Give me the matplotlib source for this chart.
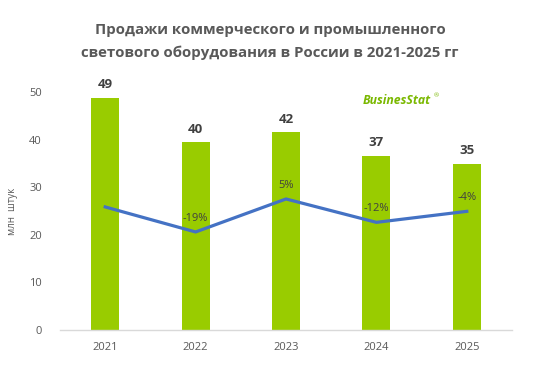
import matplotlib
matplotlib.use("Agg")
import matplotlib.pyplot as plt

years = ["2021", "2022", "2023", "2024", "2025"]
sales = [48.7, 39.4, 41.5, 36.5, 34.9]
sales_labels = ["49", "40", "42", "37", "35"]
growth = [-0.8, -19, 5, -12, -4]
growth_labels = ["", "-19%", "5%", "-12%", "-4%"]

plt.rcParams['font.family'] = ['Open Sans', 'DejaVu Sans']

fig = plt.figure(figsize=(5.4, 3.74), dpi=100)
ax = fig.add_axes([60/540, 44/374, 452/540, 238/374])
x = list(range(len(years)))
ax.bar(x, sales, width=0.31, color="#99CC00", zorder=2)
ax.set_xlim(-0.5, 4.5)
ax.set_ylim(0, 50)
ax.set_yticks([0, 10, 20, 30, 40, 50])
ax.set_xticks(x)
ax.set_xticklabels(years)
ax.tick_params(axis='both', length=0, labelsize=8, colors="#595959")
ax.tick_params(axis='y', pad=13)
ax.tick_params(axis='x', pad=9)
for s in ["top", "right", "left"]:
    ax.spines[s].set_visible(False)
ax.spines["bottom"].set_color("#d9d9d9")
ax.spines["bottom"].set_linewidth(1)
ax.set_ylabel("млн  штук", fontsize=7, color="#595959", labelpad=8)
for xi, v, lab in zip(x, sales, sales_labels):
    ax.annotate(lab, (xi, v), xytext=(0, 5), textcoords="offset points",
                ha="center", va="bottom", fontsize=9.5, fontweight="bold", color="#404040")

ax2 = ax.twinx()
ax2.plot(x, growth, color="#4472C4", linewidth=2.3, zorder=3)
ax2.set_ylim(-90.3, 82.8)
ax2.axis("off")
for xi, g, lab in zip(x, growth, growth_labels):
    if lab:
        ax2.annotate(lab, (xi, g), xytext=(0, 6), textcoords="offset points",
                     ha="center", va="bottom", fontsize=8, color="#404040")

fig.text(0.5, 1 - 30/374, "Продажи коммерческого и промышленного", ha="center", va="center",
         fontsize=10.8, fontweight="bold", color="#595959")
fig.text(0.5, 1 - 53/374, "светового оборудования в России в 2021-2025 гг", ha="center", va="center",
         fontsize=10.8, fontweight="bold", color="#595959")

fig.text(397/540, 1 - 100/374, "BusinesStat", ha="center", va="center", fontsize=8.8,
         fontweight="bold", fontstyle="italic", color="#7AB800")
fig.text(436/540, 1 - 96/374, "®", ha="center", va="center", fontsize=4.5, color="#7AB800")

fig.savefig("out.png", dpi=100)
